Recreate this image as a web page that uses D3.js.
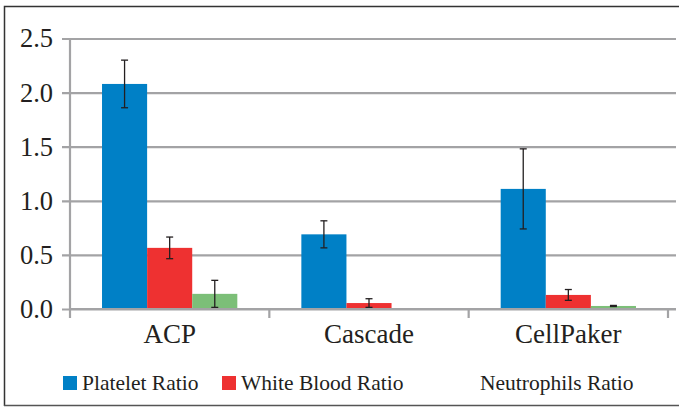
<!DOCTYPE html>
<html>
<head>
<meta charset="utf-8">
<script src="https://cdn.jsdelivr.net/npm/d3@7"></script>
<style>
 body { margin: 0; background: #fff; }
</style>
</head>
<body>
<div id="chart"></div>
<script>
//Categories, series and tick labels.
var categories = ["ACP", "Cascade", "CellPaker"];
var seriesNames = ["Platelet Ratio", "White Blood Ratio", "Neutrophils Ratio"];
var plateletValues = [2.08, 0.69, 1.11];
var plateletErrors = [0.22, 0.125, 0.37];
var whiteBloodValues = [0.565, 0.055, 0.13];
var whiteBloodErrors = [0.1, 0.04, 0.05];
var neutrophilsValues = [0.14, 0, 0.028];
var neutrophilsErrors = [0.125, 0, 0.005];
var yTicks = [0, 0.5, 1.0, 1.5, 2.0, 2.5];

var colors = ["#0080c6", "#ee3131", "#7cbf78"];
var serif = "Liberation Serif";

window.onload = function()
{
 var width = 679, height = 408;
 var svg = d3.select("#chart").append("svg").attr("width", width).attr("height", height)
  .attr("font-family", serif);

 //Outer frame.
 svg.append("path").attr("d", "M4.5,406 V6.5 H679").attr("fill", "none").attr("stroke", "#333").attr("stroke-width", 1.5);
 svg.append("line").attr("x1", 4).attr("x2", 679).attr("y1", 405.5).attr("y2", 405.5).attr("stroke", "#555").attr("stroke-width", 1.5);

 var left = 70, right = 668, top = 38.5, bottom = 309;

 var x = d3.scaleBand().domain(categories).range([left, right]);
 var x1 = d3.scaleBand().domain(seriesNames).range([0, x.bandwidth()]).paddingOuter(0.71).paddingInner(0);
 var y = d3.scaleLinear().domain([0, 2.5]).range([bottom, top]);

 //Gridlines with small ticks to the left.
 var grid = svg.append("g").attr("transform", "translate(" + left + ",0)")
  .call(d3.axisLeft(y).tickValues(yTicks).tickSize(-(676 - left)).tickFormat(d3.format(".1f")).tickPadding(17));
 grid.attr("font-family", serif).attr("font-size", 26.5);
 grid.select(".domain").remove();
 grid.selectAll(".tick line").attr("x1", -8).attr("stroke", "#a3a3a5").attr("stroke-width", 2.2);
 grid.selectAll(".tick text").attr("fill", "#231f20");

 //Y axis line.
 svg.append("line").attr("x1", left).attr("x2", left).attr("y1", top).attr("y2", 318)
  .attr("stroke", "#a3a3a5").attr("stroke-width", 2.2);

 var series = [
  { name: seriesNames[0], values: plateletValues, errors: plateletErrors },
  { name: seriesNames[1], values: whiteBloodValues, errors: whiteBloodErrors },
  { name: seriesNames[2], values: neutrophilsValues, errors: neutrophilsErrors }
 ];

 //Bars.
 series.forEach(function(s, si)
 {
  svg.append("g").selectAll("rect").data(categories).enter().append("rect")
   .attr("x", function(d) { return x(d) + x1(s.name); })
   .attr("width", x1.bandwidth())
   .attr("y", function(d, i) { return y(s.values[i]); })
   .attr("height", function(d, i) { return bottom - y(s.values[i]); })
   .attr("fill", colors[si]);
 });

 //X axis line and ticks.
 svg.append("line").attr("x1", left).attr("x2", 676).attr("y1", bottom).attr("y2", bottom)
  .attr("stroke", "#a3a3a5").attr("stroke-width", 2.2);
 svg.append("g").selectAll("line").data(categories).enter().append("line")
  .attr("x1", function(d) { return x(d) + x.bandwidth(); })
  .attr("x2", function(d) { return x(d) + x.bandwidth(); })
  .attr("y1", bottom).attr("y2", 318)
  .attr("stroke", "#a3a3a5").attr("stroke-width", 2.2);

 //Error bars.
 series.forEach(function(s)
 {
  var g = svg.append("g");
  categories.forEach(function(c, i)
  {
   if (s.errors[i] === 0) return;
   var cx = x(c) + x1(s.name) + x1.bandwidth() / 2;
   var y1 = y(s.values[i] + s.errors[i]), y2 = y(s.values[i] - s.errors[i]);
   g.append("line").attr("x1", cx).attr("x2", cx).attr("y1", y1).attr("y2", y2).attr("stroke", "#231f20").attr("stroke-width", 1.3);
   g.append("line").attr("x1", cx - 3.5).attr("x2", cx + 3.5).attr("y1", y1).attr("y2", y1).attr("stroke", "#231f20").attr("stroke-width", 1.3);
   g.append("line").attr("x1", cx - 3.5).attr("x2", cx + 3.5).attr("y1", y2).attr("y2", y2).attr("stroke", "#231f20").attr("stroke-width", 1.3);
  });
 });

 //Category labels.
 svg.append("g").selectAll("text").data(categories).enter().append("text")
  .attr("x", function(d) { return x(d) + x.bandwidth() / 2; })
  .attr("y", 343)
  .attr("text-anchor", "middle")
  .attr("font-size", 27)
  .attr("fill", "#231f20")
  .text(function(d) { return d; });

 //Legend (the third entry has no visible swatch in the original).
 var legendX = [63, 222, 480];
 var legend = svg.append("g").selectAll("g").data(seriesNames).enter().append("g")
  .attr("transform", function(d, i) { return "translate(" + legendX[i] + ",0)"; });
 legend.filter(function(d, i) { return i < 2; }).append("rect")
  .attr("x", 0).attr("y", 376).attr("width", 14).attr("height", 14)
  .attr("fill", function(d, i) { return colors[i]; });
 legend.append("text")
  .attr("x", function(d, i) { return i < 2 ? 19 : 0; })
  .attr("y", 390)
  .attr("font-size", 21.5)
  .attr("fill", "#231f20")
  .text(function(d) { return d; });
}
</script>
</body>
</html>
